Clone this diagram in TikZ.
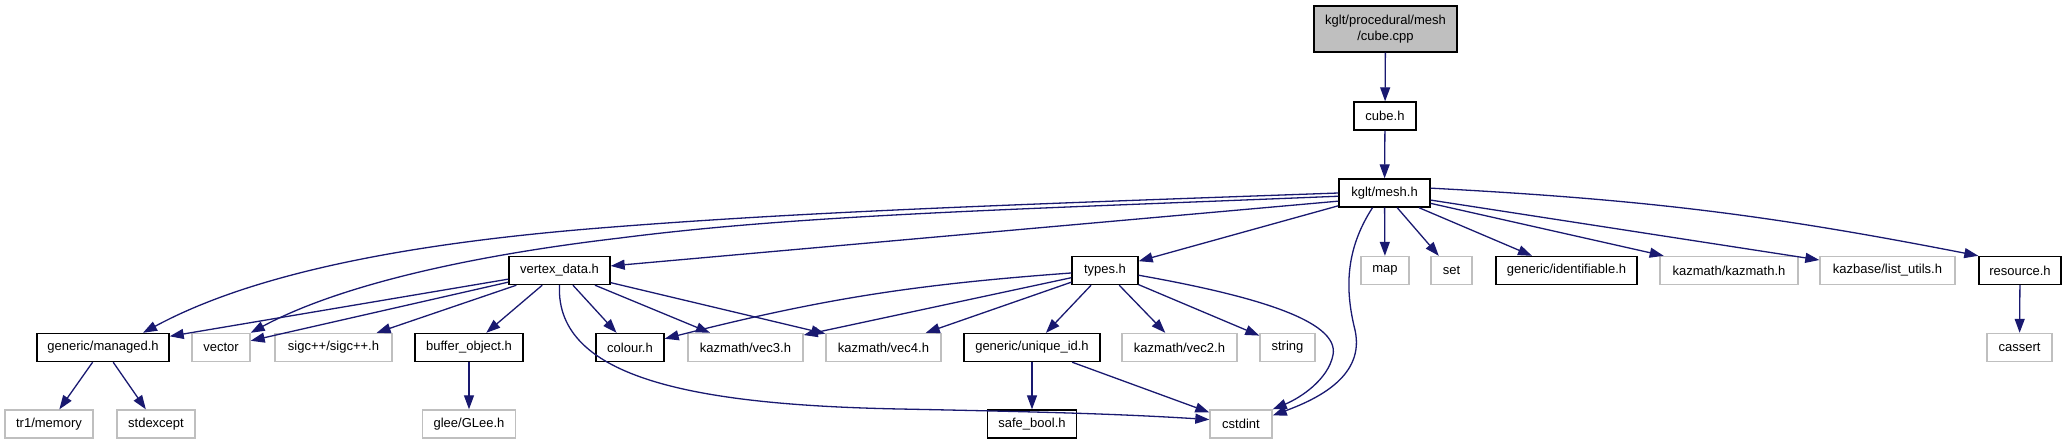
\documentclass[tikz,border=0pt]{standalone}
\usepackage{fontspec}
\setmainfont{Liberation Sans}
\usetikzlibrary{arrows.meta}
\definecolor{midnight}{HTML}{191970}
\definecolor{grey75}{HTML}{BFBFBF}

\begin{document}
\begin{tikzpicture}[x=1pt, y=-1pt,
		hfile/.style={draw=black, fill=white, line width=1.4pt, minimum height=28pt, inner sep=0pt, font=\fontsize{13}{16.5}\selectfont},
		sysfile/.style={hfile, draw=grey75},
		dep/.style={->, >={Triangle[length=14pt, width=10pt]}, draw=midnight, line width=1.3pt}]
	\useasboundingbox (0,0) rectangle (2067,445);

	\node[hfile, fill=grey75, minimum width=143pt, minimum height=46pt, align=center] (cubecpp) at (1385.5,29) {kglt/procedural/mesh\\/cube.cpp};
	\node[hfile, minimum width=62pt] (cubeh) at (1385,116) {cube.h};
	\node[hfile, minimum width=91pt] (mesh) at (1384.5,193) {kglt/mesh.h};

	\node[hfile, minimum width=101pt] (vertexdata) at (559.5,270.5) {vertex\_data.h};
	\node[hfile, minimum width=66pt] (types) at (1105,270.5) {types.h};
	\node[sysfile, minimum width=48pt] (map) at (1385,270.5) {map};
	\node[sysfile, minimum width=41pt] (set) at (1451.5,270.5) {set};
	\node[hfile, minimum width=141pt] (identifiable) at (1566.5,270.5) {generic/identifiable.h};
	\node[sysfile, minimum width=138pt] (kazmath) at (1729,270.5) {kazmath/kazmath.h};
	\node[sysfile, minimum width=135pt] (listutils) at (1887.5,270.5) {kazbase/list\_utils.h};
	\node[hfile, minimum width=82pt] (resource) at (2020,270.5) {resource.h};

	\node[hfile, minimum width=132pt] (managed) at (103,347.5) {generic/managed.h};
	\node[sysfile, minimum width=58pt] (vector) at (221,347.5) {vector};
	\node[sysfile, minimum width=117pt] (sigc) at (333.5,347.5) {sigc++/sigc++.h};
	\node[hfile, minimum width=108pt] (bufferobject) at (469,347.5) {buffer\_object.h};
	\node[hfile, minimum width=68pt] (colour) at (630,347.5) {colour.h};
	\node[sysfile, minimum width=115pt] (vecthree) at (745.5,347.5) {kazmath/vec3.h};
	\node[sysfile, minimum width=115pt] (vecfour) at (883.5,347.5) {kazmath/vec4.h};
	\node[hfile, minimum width=136pt] (uniqueid) at (1032,347.5) {generic/unique\_id.h};
	\node[sysfile, minimum width=115pt] (vectwo) at (1179.5,347.5) {kazmath/vec2.h};
	\node[sysfile, minimum width=55pt] (string) at (1287.5,347.5) {string};
	\node[sysfile, minimum width=65pt] (cassert) at (2019.5,347.5) {cassert};

	\node[sysfile, minimum width=88pt] (trmemory) at (49,424) {tr1/memory};
	\node[sysfile, minimum width=78pt] (stdexcept) at (156,424) {stdexcept};
	\node[sysfile, minimum width=93pt] (glee) at (469,424) {glee/GLee.h};
	\node[hfile, minimum width=89pt] (safebool) at (1032,424) {safe\_bool.h};
	\node[sysfile, minimum width=62pt] (cstdint) at (1241,424) {cstdint};

	\draw[dep] (cubecpp) -- (cubeh);
	\draw[dep] (cubeh) -- (mesh);

	\draw[dep] (mesh.west) .. controls (1000,205) and (800,212) .. (600,228) .. controls (400,244) and (250,275) .. (managed.north east -| 143,0);
	\draw[dep] (mesh.184) .. controls (1000,210) and (800,215) .. (620,238) .. controls (450,258) and (330,290) .. (vector.north east);
	\draw[dep] (mesh.190) -- (vertexdata);
	\draw[dep] (mesh) -- (types);
	\draw[dep] (mesh.south) ++(-12,0) .. controls (1345,250) and (1345,290) .. (1355,330) .. controls (1365,375) and (1320,398) .. (cstdint.15);
	\draw[dep] (mesh) -- (map);
	\draw[dep] (mesh) -- (set);
	\draw[dep] (mesh) -- (identifiable);
	\draw[dep] (mesh) -- (kazmath);
	\draw[dep] (mesh) -- (listutils);
	\draw[dep] (mesh.6) to[bend left=4] (resource.north west);

	\draw[dep] (vertexdata) -- (managed);
	\draw[dep] (vertexdata) -- (vector);
	\draw[dep] (vertexdata) -- (sigc);
	\draw[dep] (vertexdata) -- (bufferobject);
	\draw[dep] (vertexdata) -- (colour);
	\draw[dep] (vertexdata) -- (vecthree);
	\draw[dep] (vertexdata) -- (vecfour);
	\draw[dep] (vertexdata.south) .. controls (555,380) and (700,405) .. (900,409) .. controls (1050,412) and (1120,414) .. (cstdint.172);

	\draw[dep] (types) to[bend right=5] (colour);
	\draw[dep] (types) -- (vecthree);
	\draw[dep] (types) -- (vecfour);
	\draw[dep] (types) -- (uniqueid);
	\draw[dep] (types) -- (vectwo);
	\draw[dep] (types) -- (string);
	\draw[dep] (types.-8) .. controls (1250,295) and (1340,320) .. (1333,355) .. controls (1328,380) and (1300,398) .. (cstdint.north east);

	\draw[dep] (managed) -- (trmemory);
	\draw[dep] (managed) -- (stdexcept);
	\draw[dep] (bufferobject) -- (glee);
	\draw[dep] (uniqueid) -- (safebool);
	\draw[dep] (uniqueid) -- (cstdint);
	\draw[dep] (resource) -- (cassert);
\end{tikzpicture}
\end{document}
